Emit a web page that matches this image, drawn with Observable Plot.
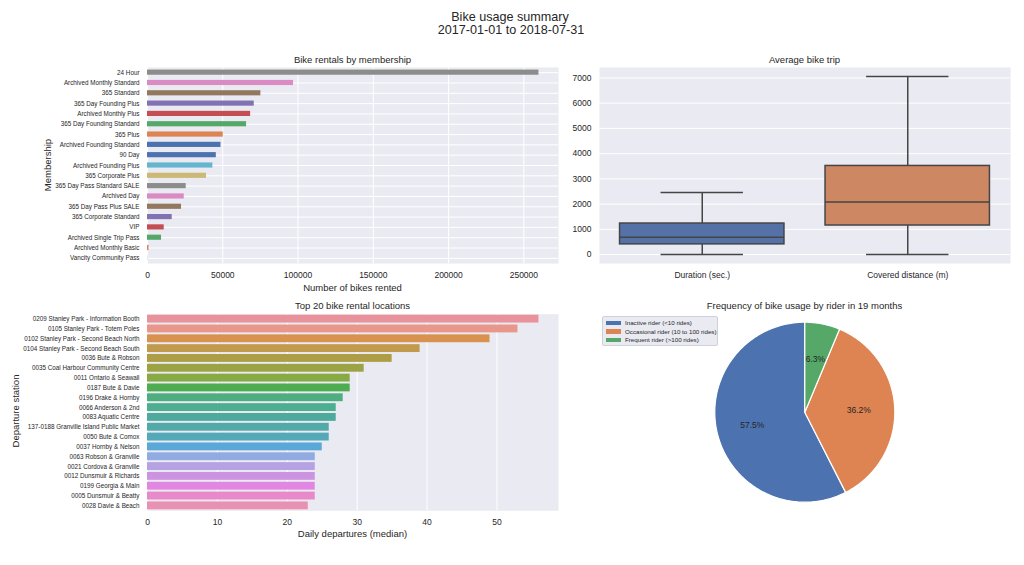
<!DOCTYPE html>
<html>
<head>
<meta charset="utf-8">
<script src="https://cdn.jsdelivr.net/npm/d3@7"></script>
<script src="https://cdn.jsdelivr.net/npm/@observablehq/plot@0.6"></script>
<style>
  body { margin: 0; background: #fff; font-family: "Liberation Sans", Arial, sans-serif; color: #262626; }
  #root { position: relative; width: 1024px; height: 565px; overflow: hidden; background: #fff; }
  .abs { position: absolute; }
  .txt { position: absolute; white-space: nowrap; transform: translate(-50%, -50%); color: #262626; }
  .rot { transform: translate(-50%, -50%) rotate(-90deg); }
  .legend { position: absolute; background: #eaeaf2; border: 1px solid #d0d0d8; border-radius: 2px; font-size: 6.2px; padding: 2px 3px; box-sizing: border-box; white-space: nowrap; }
  .legend div { display: flex; align-items: center; height: 8.6px; }
  .legend span.sw { display: inline-block; width: 15px; height: 4.5px; margin-right: 4px; flex: none; }
</style>
</head>
<body>
<div id="root"></div>
<script>
// ---------- DATA ----------
const membershipNames = [
  "24 Hour", "Archived Monthly Standard", "365 Standard", "365 Day Founding Plus",
  "Archived Monthly Plus", "365 Day Founding Standard", "365 Plus", "Archived Founding Standard",
  "90 Day", "Archived Founding Plus", "365 Corporate Plus", "365 Day Pass Standard SALE",
  "Archived Day", "365 Day Pass Plus SALE", "365 Corporate Standard", "VIP",
  "Archived Single Trip Pass", "Archived Monthly Basic", "Vancity Community Pass"
];
const membershipRentals = [
  260000, 97000, 75300, 70900, 68500, 65800, 50300, 48800, 45700, 43400,
  39200, 25700, 24400, 22600, 16400, 11100, 9300, 1000, 300
];
const membershipColors = [
  "#8c8c8c", "#da8bc3", "#937860", "#8172b3", "#c44e52", "#55a868", "#dd8452", "#4c72b0",
  "#4c72b0", "#64b5cd", "#ccb974", "#8c8c8c", "#da8bc3", "#937860", "#8172b3", "#c44e52",
  "#55a868", "#dd8452", "#c9d3ea"
];
const membershipTicks = [0, 50000, 100000, 150000, 200000, 250000];

const tripCategories = ["Duration (sec.)", "Covered distance (m)"];
const tripMin = [0, 0];
const tripQ1 = [405, 1152];
const tripMedian = [692, 2084];
const tripQ3 = [1231, 3512];
const tripMax = [2462, 7060];
const tripColors = ["#5572a8", "#cd8763"];
const tripTicks = [0, 1000, 2000, 3000, 4000, 5000, 6000, 7000];

const stationNames = [
  "0209 Stanley Park - Information Booth", "0105 Stanley Park - Totem Poles",
  "0102 Stanley Park - Second Beach North", "0104 Stanley Park - Second Beach South",
  "0036 Bute & Robson", "0035 Coal Harbour Community Centre", "0011 Ontario & Seawall",
  "0187 Bute & Davie", "0196 Drake & Hornby", "0066 Anderson & 2nd", "0083 Aquatic Centre",
  "137-0188 Granville Island Public Market", "0050 Bute & Comox", "0037 Hornby & Nelson",
  "0063 Robson & Granville", "0021 Cordova & Granville", "0012 Dunsmuir & Richards",
  "0199 Georgia & Main", "0005 Dunsmuir & Beatty", "0028 Davie & Beach"
];
const stationDepartures = [56, 53, 49, 39, 35, 31, 29, 29, 28, 27, 27, 26, 26, 25, 24, 24, 24, 24, 24, 23];
const stationColors = [
  "#e8939c", "#e8978a", "#d9914f", "#c19a4e", "#ad9d45", "#9ba344", "#88aa45", "#4dad50",
  "#4fae80", "#4eae90", "#4faa9e", "#51a9a8", "#54a9b8", "#5aa8d8", "#91aae2", "#b6a2e3",
  "#cc94e0", "#e287e1", "#e88ac9", "#e891b3"
];
const stationTicks = [0, 10, 20, 30, 40, 50];

const riderGroups = ["Inactive rider (<10 rides)", "Occasional rider (10 to 100 rides)", "Frequent rider (>100 rides)"];
const riderShares = [57.5, 36.2, 6.3];
const riderColors = ["#4c72b0", "#dd8452", "#55a868"];

// ---------- HELPERS ----------
const root = document.getElementById("root");
const FONT = '"Liberation Sans", Arial, sans-serif';
const BG = "#eaeaf2";
const TXT = "#262626";
const TICK = 8.5;
const LAB = 9.5;

function place(el, left, top) {
  el.classList.add("abs");
  el.style.left = left + "px";
  el.style.top = top + "px";
  root.appendChild(el);
}
function text(str, x, y, size, rotate) {
  const d = document.createElement("div");
  d.className = "txt" + (rotate ? " rot" : "");
  d.style.left = x + "px";
  d.style.top = y + "px";
  d.style.fontSize = size + "px";
  d.textContent = str;
  root.appendChild(d);
}

// ---------- TITLES ----------
text("Bike usage summary", 510, 17, 12.6);
text("2017-01-01 to 2018-07-31", 511, 30, 12.6);

// ---------- PANEL 1: membership ----------
const memData = membershipNames.map((n, i) => ({name: n, value: membershipRentals[i], color: membershipColors[i]}));
const p1 = Plot.plot({
  width: 570, height: 250,
  marginLeft: 147, marginRight: 12, marginTop: 17, marginBottom: 37,
  style: {fontFamily: FONT, color: TXT, background: "transparent"},
  x: {domain: [0, 273000], label: null},
  y: {domain: membershipNames, label: null, paddingInner: 0.5, paddingOuter: 0.25, round: false},
  color: {type: "identity"},
  marks: [
    Plot.frame({fill: BG, stroke: null}),
    Plot.gridX({ticks: membershipTicks, stroke: "white", strokeOpacity: 1, strokeWidth: 1}),
    Plot.gridY({stroke: "white", strokeOpacity: 1, strokeWidth: 1}),
    Plot.barX(memData, {x: "value", y: "name", fill: "color"}),
    Plot.axisX({ticks: membershipTicks, tickSize: 0, tickPadding: 8, fontSize: TICK, tickFormat: d => String(d), label: null}),
    Plot.axisY({tickSize: 0, tickPadding: 8, fontSize: 6.3, label: null})
  ]
});
place(p1, 0, 50);
text("Bike rentals by membership", 352.5, 59, LAB);
text("Number of bikes rented", 352.5, 287, LAB);
text("Membership", 47, 165, LAB, true);

// ---------- PANEL 2: box plot ----------
const boxData = tripCategories.map((n, i) => ({
  name: n, min: tripMin[i], q1: tripQ1[i], median: tripMedian[i], q3: tripQ3[i], max: tripMax[i], color: tripColors[i]
}));
const LINE = "#454545";
const p2 = Plot.plot({
  width: 464, height: 250,
  marginLeft: 39, marginRight: 14, marginTop: 17, marginBottom: 37,
  style: {fontFamily: FONT, color: TXT, background: "transparent"},
  x: {domain: tripCategories, label: null, paddingInner: 0.2, paddingOuter: 0.1, round: false},
  y: {domain: [-353, 7413], label: null},
  color: {type: "identity"},
  marks: [
    Plot.frame({fill: BG, stroke: null}),
    Plot.gridY({ticks: tripTicks, stroke: "white", strokeOpacity: 1, strokeWidth: 1}),
    Plot.ruleX(boxData, {x: "name", y1: "q3", y2: "max", stroke: LINE, strokeWidth: 1.5}),
    Plot.ruleX(boxData, {x: "name", y1: "min", y2: "q1", stroke: LINE, strokeWidth: 1.5}),
    Plot.tickY(boxData, {x: "name", y: "max", stroke: LINE, strokeWidth: 1.5, insetLeft: 41, insetRight: 41}),
    Plot.tickY(boxData, {x: "name", y: "min", stroke: LINE, strokeWidth: 1.5, insetLeft: 41, insetRight: 41}),
    Plot.barY(boxData, {x: "name", y1: "q1", y2: "q3", fill: "color", stroke: LINE, strokeWidth: 1.5}),
    Plot.tickY(boxData, {x: "name", y: "median", stroke: LINE, strokeWidth: 1.5}),
    Plot.axisX({tickSize: 0, tickPadding: 8, fontSize: TICK, label: null}),
    Plot.axisY({ticks: tripTicks, tickSize: 0, tickPadding: 8, fontSize: TICK, tickFormat: d => String(d), label: null})
  ]
});
place(p2, 560, 50);
text("Average bike trip", 804.5, 59, LAB);

// ---------- PANEL 3: stations ----------
const stData = stationNames.map((n, i) => ({name: n, value: stationDepartures[i], color: stationColors[i]}));
const p3 = Plot.plot({
  width: 570, height: 245,
  marginLeft: 147, marginRight: 12, marginTop: 13.7, marginBottom: 34.7,
  style: {fontFamily: FONT, color: TXT, background: "transparent"},
  x: {domain: [0, 58.8], label: null},
  y: {domain: stationNames, label: null, paddingInner: 0.2, paddingOuter: 0.1, round: false},
  color: {type: "identity"},
  marks: [
    Plot.frame({fill: BG, stroke: null}),
    Plot.gridX({ticks: stationTicks, stroke: "white", strokeOpacity: 1, strokeWidth: 1}),
    Plot.barX(stData, {x: "value", y: "name", fill: "color"}),
    Plot.axisX({ticks: stationTicks, tickSize: 0, tickPadding: 8, fontSize: TICK, label: null}),
    Plot.axisY({tickSize: 0, tickPadding: 8, fontSize: 6.3, label: null})
  ]
});
place(p3, 0, 300);
text("Top 20 bike rental locations", 352.5, 305, LAB);
text("Daily departures (median)", 352.5, 533, LAB);
text("Departure station", 15, 411, LAB, true);

// ---------- PANEL 4: pie ----------
const total = d3.sum(riderShares);
const piePts = [];
const pieLabels = [];
let startDeg = 90;
riderGroups.forEach((g, i) => {
  const span = riderShares[i] / total * 360;
  const a0 = startDeg, a1 = startDeg + span;
  piePts.push({name: g, x: 0, y: 0, color: riderColors[i]});
  const steps = Math.max(2, Math.ceil(span));
  for (let k = 0; k <= steps; k++) {
    const a = (a0 + (a1 - a0) * k / steps) * Math.PI / 180;
    piePts.push({name: g, x: Math.cos(a), y: Math.sin(a), color: riderColors[i]});
  }
  piePts.push({name: g, x: 0, y: 0, color: riderColors[i]});
  const mid = (a0 + a1) / 2 * Math.PI / 180;
  pieLabels.push({x: 0.6 * Math.cos(mid), y: 0.6 * Math.sin(mid), label: riderShares[i].toFixed(1) + "%"});
  startDeg = a1;
});
const p4 = Plot.plot({
  width: 330, height: 220,
  marginLeft: 124.3, marginRight: 25.7, marginTop: 31.7, marginBottom: 8.3,
  style: {fontFamily: FONT, color: TXT, background: "transparent", overflow: "visible"},
  x: {domain: [-1, 1], axis: null},
  y: {domain: [-1, 1], axis: null},
  color: {type: "identity"},
  marks: [
    Plot.line(piePts, {x: "x", y: "y", z: "name", fill: "color", stroke: "white", strokeWidth: 1.2, strokeLinejoin: "round"}),
    Plot.text(pieLabels, {x: "x", y: "y", text: "label", fontSize: 8.5, fill: TXT})
  ]
});
place(p4, 590, 290);
text("Frequency of bike usage by rider in 19 months", 804.5, 305, LAB);

const leg = document.createElement("div");
leg.className = "legend";
leg.style.left = "602px"; leg.style.top = "315.5px"; leg.style.width = "116px"; leg.style.height = "30px";
riderGroups.forEach((g, i) => {
  const row = document.createElement("div");
  const sw = document.createElement("span");
  sw.className = "sw"; sw.style.background = riderColors[i];
  row.appendChild(sw);
  row.appendChild(document.createTextNode(g));
  leg.appendChild(row);
});
root.appendChild(leg);
</script>
</body>
</html>
